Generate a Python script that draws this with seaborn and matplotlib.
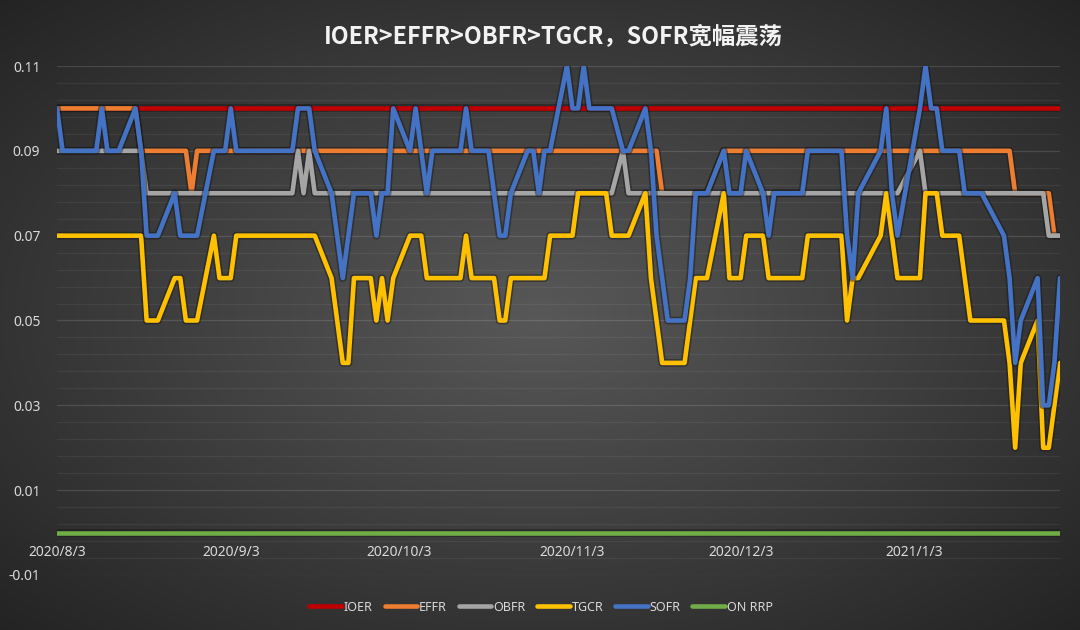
import numpy as np
import pandas as pd
import matplotlib
matplotlib.use("Agg")
import matplotlib.pyplot as plt
import matplotlib.patheffects as pe
import seaborn as sns

# business days shown on the chart (US money-market holidays removed)
holidays = ["2020-09-07", "2020-10-12", "2020-11-11", "2020-11-26",
            "2020-12-25", "2021-01-01", "2021-01-18"]
dates = pd.bdate_range("2020-08-03", "2021-01-29", freq="C", holidays=holidays)

# rates in %, one row of values per month
ioer = [0.10] * len(dates)

effr = [0.10, 0.10, 0.10, 0.10, 0.10, 0.10, 0.10, 0.10, 0.10, 0.10, 0.10, 0.09, 0.09, 0.09, 0.09, 0.09, 0.09, 0.09, 0.08, 0.09, 0.09,
        0.09, 0.09, 0.09, 0.09, 0.09, 0.09, 0.09, 0.09, 0.09, 0.09, 0.09, 0.09, 0.09, 0.09, 0.09, 0.09, 0.09, 0.09, 0.09, 0.09, 0.09,
        0.09, 0.09, 0.09, 0.09, 0.09, 0.09, 0.09, 0.09, 0.09, 0.09, 0.09, 0.09, 0.09, 0.09, 0.09, 0.09, 0.09, 0.09, 0.09, 0.09, 0.09,
        0.09, 0.09, 0.09, 0.09, 0.09, 0.09, 0.09, 0.09, 0.09, 0.09, 0.09, 0.09, 0.08, 0.08, 0.08, 0.08, 0.08, 0.08, 0.09,
        0.09, 0.09, 0.09, 0.09, 0.09, 0.09, 0.09, 0.09, 0.09, 0.09, 0.09, 0.09, 0.09, 0.09, 0.09, 0.09, 0.09, 0.09, 0.09, 0.09, 0.09, 0.09,
        0.09, 0.09, 0.09, 0.09, 0.09, 0.09, 0.09, 0.09, 0.09, 0.09, 0.09, 0.09, 0.08, 0.08, 0.08, 0.08, 0.08, 0.07, 0.07]

obfr = [0.09, 0.09, 0.09, 0.09, 0.09, 0.09, 0.09, 0.09, 0.09, 0.09, 0.09, 0.09, 0.08, 0.08, 0.08, 0.08, 0.08, 0.08, 0.08, 0.08, 0.08,
        0.08, 0.08, 0.08, 0.08, 0.08, 0.08, 0.08, 0.08, 0.08, 0.09, 0.08, 0.09, 0.08, 0.08, 0.08, 0.08, 0.08, 0.08, 0.08, 0.08, 0.08,
        0.08, 0.08, 0.08, 0.08, 0.08, 0.08, 0.08, 0.08, 0.08, 0.08, 0.08, 0.08, 0.08, 0.08, 0.08, 0.08, 0.08, 0.08, 0.08, 0.08, 0.08,
        0.08, 0.08, 0.08, 0.08, 0.08, 0.08, 0.08, 0.09, 0.08, 0.08, 0.08, 0.08, 0.08, 0.08, 0.08, 0.08, 0.08, 0.08, 0.08,
        0.08, 0.08, 0.08, 0.08, 0.08, 0.08, 0.08, 0.08, 0.08, 0.08, 0.08, 0.08, 0.08, 0.08, 0.08, 0.08, 0.08, 0.08, 0.08, 0.08, 0.08, 0.08,
        0.09, 0.08, 0.08, 0.08, 0.08, 0.08, 0.08, 0.08, 0.08, 0.08, 0.08, 0.08, 0.08, 0.08, 0.08, 0.08, 0.07, 0.07, 0.07]

tgcr = [0.07, 0.07, 0.07, 0.07, 0.07, 0.07, 0.07, 0.07, 0.07, 0.07, 0.07, 0.07, 0.05, 0.05, 0.05, 0.06, 0.06, 0.05, 0.05, 0.05, 0.07,
        0.06, 0.06, 0.06, 0.07, 0.07, 0.07, 0.07, 0.07, 0.07, 0.07, 0.07, 0.07, 0.07, 0.06, 0.05, 0.04, 0.04, 0.06, 0.06, 0.05, 0.06,
        0.05, 0.06, 0.07, 0.07, 0.07, 0.06, 0.06, 0.06, 0.06, 0.07, 0.06, 0.06, 0.06, 0.05, 0.05, 0.06, 0.06, 0.06, 0.06, 0.06, 0.07,
        0.07, 0.07, 0.08, 0.08, 0.08, 0.08, 0.07, 0.07, 0.07, 0.08, 0.06, 0.05, 0.04, 0.04, 0.04, 0.05, 0.06, 0.06, 0.08,
        0.06, 0.06, 0.06, 0.07, 0.07, 0.06, 0.06, 0.06, 0.06, 0.06, 0.07, 0.07, 0.07, 0.07, 0.07, 0.05, 0.06, 0.06, 0.07, 0.08, 0.07, 0.06,
        0.06, 0.08, 0.08, 0.08, 0.07, 0.07, 0.06, 0.05, 0.05, 0.05, 0.05, 0.04, 0.02, 0.04, 0.05, 0.02, 0.02, 0.03, 0.04]

sofr = [0.10, 0.09, 0.09, 0.09, 0.09, 0.09, 0.10, 0.09, 0.09, 0.09, 0.10, 0.09, 0.07, 0.07, 0.07, 0.08, 0.07, 0.07, 0.07, 0.07, 0.09,
        0.09, 0.09, 0.10, 0.09, 0.09, 0.09, 0.09, 0.09, 0.09, 0.10, 0.10, 0.10, 0.09, 0.08, 0.07, 0.06, 0.07, 0.08, 0.08, 0.07, 0.08,
        0.08, 0.10, 0.09, 0.10, 0.09, 0.08, 0.09, 0.09, 0.09, 0.10, 0.09, 0.09, 0.08, 0.07, 0.07, 0.08, 0.09, 0.09, 0.08, 0.09, 0.09,
        0.11, 0.10, 0.10, 0.11, 0.10, 0.10, 0.10, 0.09, 0.09, 0.10, 0.09, 0.07, 0.06, 0.05, 0.05, 0.06, 0.08, 0.08, 0.09,
        0.08, 0.08, 0.08, 0.09, 0.08, 0.07, 0.08, 0.08, 0.08, 0.08, 0.09, 0.09, 0.09, 0.09, 0.09, 0.07, 0.06, 0.08, 0.09, 0.10, 0.08, 0.07,
        0.10, 0.11, 0.10, 0.10, 0.09, 0.09, 0.08, 0.08, 0.08, 0.08, 0.07, 0.06, 0.04, 0.05, 0.06, 0.03, 0.03, 0.04, 0.06]

on_rrp = [0.00] * len(dates)

series_names = ["IOER", "EFFR", "OBFR", "TGCR", "SOFR", "ON RRP"]
series_colors = ["#C00000", "#ED7D31", "#A5A5A5", "#FFC000", "#4472C4", "#70AD47"]

y_ticks = [-0.01, 0.01, 0.03, 0.05, 0.07, 0.09, 0.11]
y_tick_labels = ["-0.01", "0.01", "0.03", "0.05", "0.07", "0.09", "0.11"]
x_tick_dates = ["2020-08-03", "2020-09-03", "2020-10-03", "2020-11-03", "2020-12-03", "2021-01-03"]
x_tick_labels = ["2020/8/3", "2020/9/3", "2020/10/3", "2020/11/3", "2020/12/3", "2021/1/3"]

title = "IOER>EFFR>OBFR>TGCR，SOFR宽幅震荡"

wide = pd.DataFrame({"date": dates, "IOER": ioer, "EFFR": effr, "OBFR": obfr,
                     "TGCR": tgcr, "SOFR": sofr, "ON RRP": on_rrp})
df = wide.melt(id_vars="date", var_name="series", value_name="rate")

sns.set_theme(style="dark")
plt.rcParams["font.family"] = ["Noto Sans", "DejaVu Sans"]
plt.rcParams["axes.unicode_minus"] = False

fig = plt.figure(figsize=(10.8, 6.3), dpi=100)

# dark radial background
bg = fig.add_axes([0, 0, 1, 1], zorder=0)
gx, gy = np.meshgrid(np.linspace(-1, 1, 540), np.linspace(-1, 1, 315))
r = np.sqrt(gx ** 2 + gy ** 2)
shade = np.clip(88 - 37 * r, 34, 90) / 255.0
bg.imshow(np.dstack([shade, shade, shade]), aspect="auto", extent=[0, 1, 0, 1])
bg.set_axis_off()

ax = fig.add_axes([57 / 1080, 1 - 575 / 630, (1060 - 57) / 1080, (575 - 66) / 630], zorder=1)
ax.patch.set_alpha(0)

sns.lineplot(data=df, x="date", y="rate", hue="series", hue_order=series_names,
             palette=series_colors, linewidth=3.3, estimator=None, ax=ax)

for line in ax.lines:
    line.set_path_effects([pe.Stroke(linewidth=5.6, foreground="#151515", alpha=0.45), pe.Normal()])

ax.set_ylim(-0.01, 0.11)
ax.set_xlim(dates[0], dates[-1])
ax.set_yticks(y_ticks)
ax.set_yticklabels(y_tick_labels)
ax.set_yticks(np.linspace(-0.01, 0.11, 31), minor=True)
ax.set_xticks(pd.to_datetime(x_tick_dates))
ax.set_xticklabels(x_tick_labels)
ax.grid(False)
ax.grid(which="major", axis="y", color="white", alpha=0.13, linewidth=0.9)
ax.grid(which="minor", axis="y", color="white", alpha=0.06, linewidth=0.9)
ax.set_axisbelow(True)

for side in ["top", "right", "left", "bottom"]:
    ax.spines[side].set_visible(False)
ax.spines["bottom"].set_position(("data", 0))
ax.tick_params(axis="both", which="both", length=0, colors="#d9d9d9", labelsize=10)
ax.tick_params(axis="y", pad=12)
ax.tick_params(axis="x", pad=9)
ax.set_xlabel("")
ax.set_ylabel("")

sns.move_legend(ax, "center", bbox_to_anchor=(0.501, 0.036), bbox_transform=fig.transFigure,
                ncol=6, frameon=False, title=None, fontsize=9, handlelength=2.6,
                handletextpad=0.15, columnspacing=0.95)
leg = ax.get_legend()
for t in leg.get_texts():
    t.set_color("#d9d9d9")
for h in leg.get_lines():
    h.set_linewidth(3.3)

fig.text(0.512, 1 - 36 / 630, title, ha="center", va="center", fontsize=16.8,
         fontweight="bold", color="#f2f2f2", family=["Noto Sans CJK SC", "DejaVu Sans"])

fig.savefig("out.png", dpi=100)
